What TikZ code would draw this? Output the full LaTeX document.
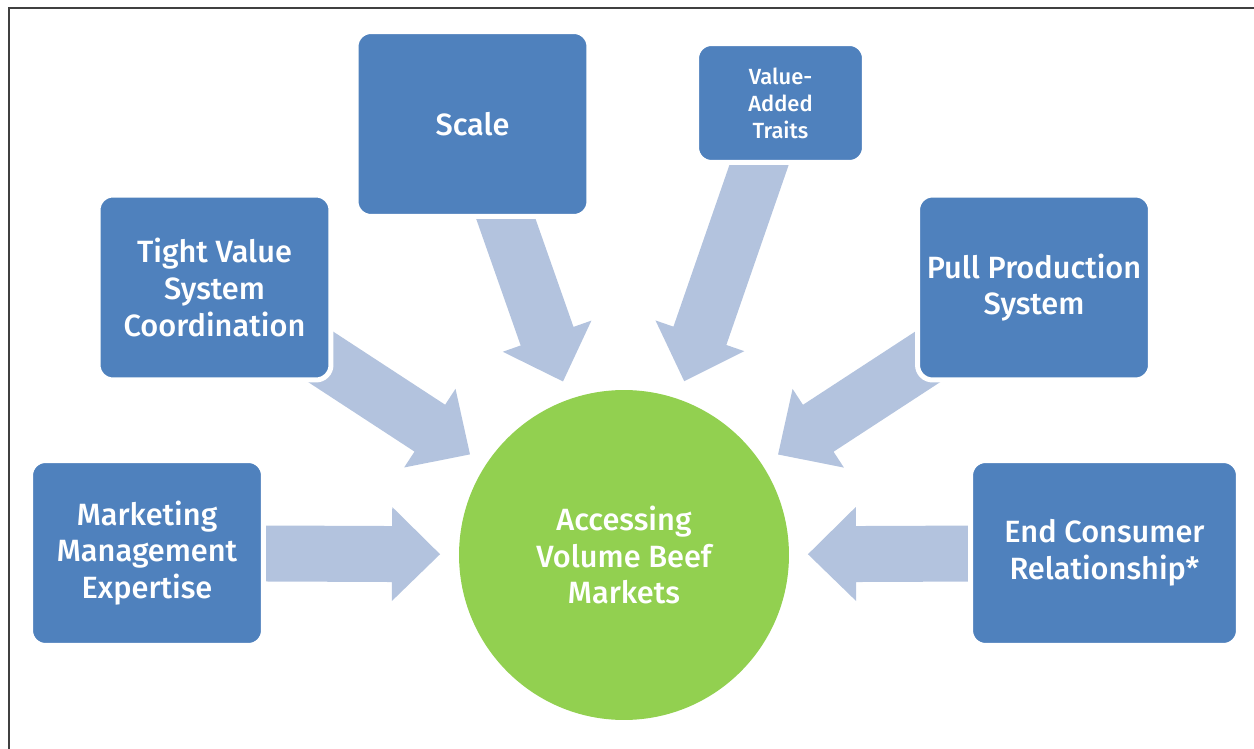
\documentclass[tikz,border=0pt]{standalone}
\usepackage{fontspec}
\setmainfont{Fira Sans}[BoldFont={* Medium}]
\usetikzlibrary{calc,backgrounds}

\definecolor{boxblue}{HTML}{4F81BD}
\definecolor{flowblue}{HTML}{B3C3DE}
\definecolor{hubgreen}{HTML}{92D050}

% #1 = box it starts from, #2 = tip
\newcommand{\blockarrow}[2]{%
    \coordinate (hb) at ($(#2)!0.96cm!(#1.center)$);
    \fill[flow]
        ($(#1.center)!0.56cm!90:(#2)$) -- ($(hb)!0.56cm!90:(#2)$)
        -- ($(hb)!0.94cm!90:(#2)$) -- (#2) -- ($(hb)!0.94cm!-90:(#2)$)
        -- ($(hb)!0.56cm!-90:(#2)$) -- ($(#1.center)!0.56cm!-90:(#2)$) -- cycle;
}

\begin{document}
\begin{tikzpicture}[
        x = 0.02cm, y = -0.02cm,
        box/.style = {
            draw = white, line width = 0.1cm,
            fill = boxblue, rounded corners = 0.3cm,
            text = white, align = center, inner sep = 0pt,
            font = \bfseries\fontsize{17.5}{20.8}\selectfont,
            minimum width = 4.66cm, minimum height = 3.7cm,
        },
        smallbox/.style = {
            box,
            font = \bfseries\fontsize{12.5}{15.3}\selectfont,
            minimum width = 3.36cm, minimum height = 2.38cm,
        },
        hub/.style = {
            circle, fill = hubgreen, inner sep = 0pt,
            text = white, align = center,
            font = \bfseries\fontsize{17.5}{20.8}\selectfont,
            minimum size = 6.6cm,
        },
        flow/.style = {fill = flowblue},
        ]
        \useasboundingbox (0,0) rectangle (1254,749);
        \draw[line width = 0.03cm, black!75] (9,749) -- (9,8) -- (1254,8);

        % Kern
        \node[hub] (hub) at (624,555) {Accessing\\Volume Beef\\Markets};

        % Factoren
        \node[box] (marketing) at (147,553) {Marketing\\Management\\Expertise};
        \node[box] (tight) at (214.5,287.5) {Tight Value\\System\\Coordination};
        \node[box] (scale) at (472.5,124) {Scale};
        \node[smallbox] (traits) at (780.5,103) {Value-\\Added\\Traits};
        \node[box] (pull) at (1034,287.5) {Pull Production\\System};
        \node[box, minimum width = 5.36cm] (consumer) at (1104.5,553) {End Consumer\\Relationship*};

        % Pijlen
        \coordinate (tip_marketing) at ($(hub.center)!3.68cm!(marketing.center)$);
        \coordinate (tip_tight) at ($(hub.center)!3.68cm!(tight.center)$);
        \coordinate (tip_scale) at ($(hub.center)!3.68cm!(scale.center)$);
        \coordinate (tip_traits) at ($(hub.center)!3.68cm!(traits.center)$);
        \coordinate (tip_pull) at ($(hub.center)!3.68cm!(pull.center)$);
        \coordinate (tip_consumer) at ($(hub.center)!3.68cm!(consumer.center)$);

        \begin{scope}[on background layer]
            \blockarrow{marketing}{tip_marketing}
            \blockarrow{tight}{tip_tight}
            \blockarrow{scale}{tip_scale}
            \blockarrow{traits}{tip_traits}
            \blockarrow{pull}{tip_pull}
            \blockarrow{consumer}{tip_consumer}
        \end{scope}
    \end{tikzpicture}
\end{document}
